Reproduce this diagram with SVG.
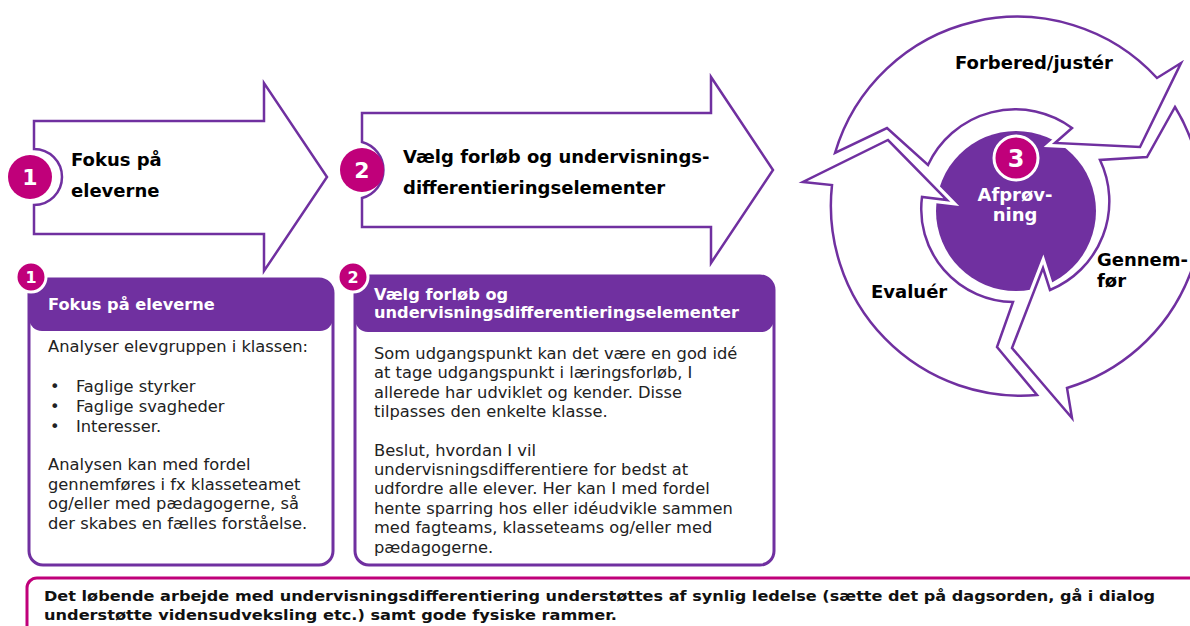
<svg xmlns="http://www.w3.org/2000/svg" width="1190" height="626" viewBox="0 0 1190 626">
<style>
.ol{fill:#fff;stroke:#7030A0;stroke-width:2.5;stroke-linejoin:miter;stroke-miterlimit:10}
.halo{fill:none;stroke:#fff;stroke-width:9;stroke-linejoin:miter;stroke-miterlimit:10}
.badge{fill:#C0007A}
.sbadge{fill:#C0007A;stroke:#fff;stroke-width:3}
.f{font-family:"DejaVu Sans",Verdana,sans-serif}
.num{font-family:"DejaVu Sans",Verdana,sans-serif;font-weight:bold;fill:#fff;text-anchor:middle}
.lbl{font-family:"DejaVu Sans",Verdana,sans-serif;font-weight:bold;font-size:18px;fill:#000}
.hdr{font-family:"DejaVu Sans",Verdana,sans-serif;font-weight:bold;font-size:16.2px;fill:#fff}
.body{font-family:"DejaVu Sans",Verdana,sans-serif;font-size:16.3px;fill:#222}
.box{fill:#fff;stroke:#7030A0;stroke-width:3}
</style>
<rect width="1190" height="626" fill="#fff"/>

<g id="step1-arrow">
<path class="ol" d="M34,121 H264 V83 L327,177 L264,271 V234 H34 V205 A28,28 0 0 0 34,149 Z"/>
<circle class="badge" cx="30" cy="177" r="22"/>
<text class="num" x="30" y="185" font-size="22">1</text>
<text class="lbl" x="71" y="166">Fokus på</text>
<text class="lbl" x="71" y="197">eleverne</text>
</g>

<g id="step2-arrow">
<path class="ol" d="M362,113 H711 V77 L773,170 L711,263 V227 H362 V198 A29,29 0 0 0 362,142 Z"/>
<circle class="badge" cx="362" cy="170" r="22"/>
<text class="num" x="362" y="178" font-size="22">2</text>
<text class="lbl" x="403" y="163">Vælg forløb og undervisnings-</text>
<text class="lbl" x="403" y="194">differentieringselementer</text>
</g>

<g id="cycle-center">
<circle cx="1016" cy="211" r="80" fill="#7030A0"/>
</g>

<g id="connectors">
<path class="halo" d="M835,153 A190,190 0 0 1 1157,78 L1181,63 L1140,147 L1055,143 L1072,128 A96,96 0 0 0 928,165 L887,128 Z"/>
<path class="ol" d="M835,153 A190,190 0 0 1 1157,78 L1181,63 L1140,147 L1055,143 L1072,128 A96,96 0 0 0 928,165 L887,128 Z"/>
<path class="halo" d="M1175,107 A190,190 0 0 1 1067,388 L1072,418 L1012,348 L1043,268 L1050,290 A96,96 0 0 0 1100,160 L1147,157 Z"/>
<path class="ol" d="M1175,107 A190,190 0 0 1 1067,388 L1072,418 L1012,348 L1043,268 L1050,290 A96,96 0 0 0 1100,160 L1147,157 Z"/>
<path class="halo" d="M803,182 L832,185 A190,190 0 0 0 1037,395 L997,347 L1013,302 A93,93 0 0 1 922,197 L947,200 L888,140 Z"/>
<path class="ol" d="M803,182 L832,185 A190,190 0 0 0 1037,395 L997,347 L1013,302 A93,93 0 0 1 922,197 L947,200 L888,140 Z"/>
</g>

<g id="cycle-labels">
<text class="lbl" x="955" y="69">Forbered/justér</text>
<text class="lbl" x="871" y="298">Evaluér</text>
<text class="lbl" x="1097" y="266">Gennem-</text>
<text class="lbl" x="1097" y="287">før</text>
</g>

<g id="step3">
<circle class="sbadge" cx="1016" cy="158" r="22"/>
<text class="num" x="1016" y="167" font-size="24">3</text>
<text class="num" x="1015" y="201" font-size="18">Afprøv-</text>
<text class="num" x="1015" y="221" font-size="18">ning</text>
</g>

<g id="box1">
<rect class="box" x="29" y="279" width="304" height="286" rx="14"/>
<rect x="29" y="279" width="304" height="52" rx="13" fill="#7030A0"/>
<circle class="sbadge" cx="31" cy="277" r="15"/>
<text class="num" x="31" y="283" font-size="16">1</text>
<text class="hdr" x="48" y="310">Fokus på eleverne</text>
<text class="body" x="48" y="352">Analyser elevgruppen i klassen:</text>
<text class="body" x="50" y="392">•</text>
<text class="body" x="76" y="392">Faglige styrker</text>
<text class="body" x="50" y="412">•</text>
<text class="body" x="76" y="412">Faglige svagheder</text>
<text class="body" x="50" y="432">•</text>
<text class="body" x="76" y="432">Interesser.</text>
<text class="body" x="48" y="470">Analysen kan med fordel</text>
<text class="body" x="48" y="490">gennemføres i fx klasseteamet</text>
<text class="body" x="48" y="509">og/eller med pædagogerne, så</text>
<text class="body" x="48" y="529">der skabes en fælles forståelse.</text>
</g>

<g id="box2">
<rect class="box" x="355" y="276" width="419" height="289" rx="14"/>
<rect x="355" y="276" width="419" height="56" rx="13" fill="#7030A0"/>
<circle class="sbadge" cx="353" cy="277" r="15"/>
<text class="num" x="353" y="283" font-size="16">2</text>
<text class="hdr" x="374" y="300">Vælg forløb og</text>
<text class="hdr" x="374" y="318">undervisningsdifferentieringselementer</text>
<text class="body" x="374" y="359">Som udgangspunkt kan det være en god idé</text>
<text class="body" x="374" y="378">at tage udgangspunkt i læringsforløb, I</text>
<text class="body" x="374" y="398">allerede har udviklet og kender. Disse</text>
<text class="body" x="374" y="417">tilpasses den enkelte klasse.</text>
<text class="body" x="374" y="456">Beslut, hvordan I vil</text>
<text class="body" x="374" y="475">undervisningsdifferentiere for bedst at</text>
<text class="body" x="374" y="494">udfordre alle elever. Her kan I med fordel</text>
<text class="body" x="374" y="514">hente sparring hos eller idéudvikle sammen</text>
<text class="body" x="374" y="533">med fagteams, klasseteams og/eller med</text>
<text class="body" x="374" y="553">pædagogerne.</text>
</g>

<g id="banner">
<rect x="27" y="578" width="1200" height="80" rx="10" fill="#fff" stroke="#C0007A" stroke-width="3"/>
<text class="f" x="44" y="601" font-size="14.5" font-weight="bold" fill="#111" textLength="1111" lengthAdjust="spacingAndGlyphs">Det løbende arbejde med undervisningsdifferentiering understøttes af synlig ledelse (sætte det på dagsorden, gå i dialog</text>
<text class="f" x="44" y="620" font-size="14.5" font-weight="bold" fill="#111" textLength="573" lengthAdjust="spacingAndGlyphs">understøtte vidensudveksling etc.) samt gode fysiske rammer.</text>
</g>
</svg>
